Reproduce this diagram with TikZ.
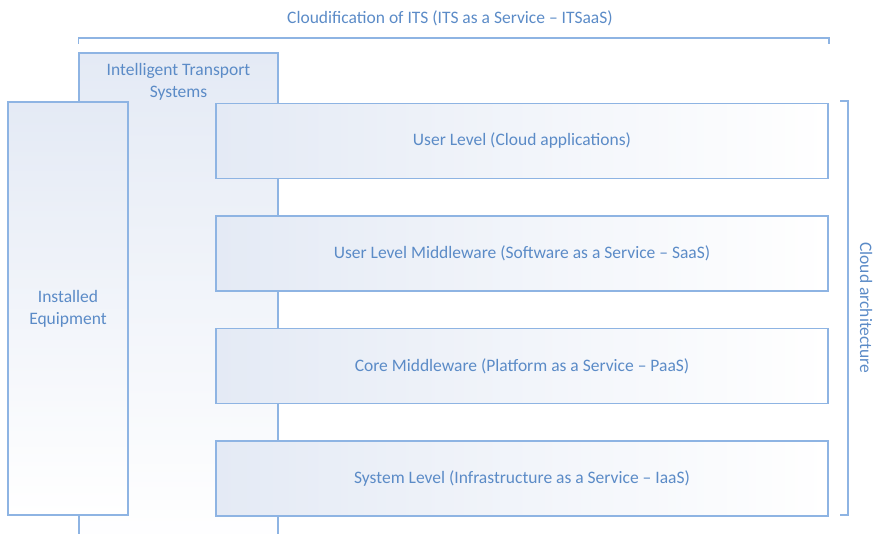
\documentclass[tikz,border=0pt]{standalone}
\usepackage{fontspec}
\setmainfont{Carlito}
\usetikzlibrary{positioning}
\definecolor{ItsLine}{HTML}{8EB4E3}
\definecolor{ItsText}{HTML}{5B8BC7}
\definecolor{ItsFill}{HTML}{E4EAF5}

\begin{document}
\begin{tikzpicture}[x=1pt,y=-1pt,
    every node/.style={font=\fontsize{17.5}{22}\selectfont,text=ItsText,align=center},
    box/.style={draw=ItsLine,line width=1.5pt,inner sep=0pt},
    level/.style={box,minimum width=612pt,minimum height=75pt,left color=ItsFill,right color=white},
    bracket/.style={draw=ItsLine,line width=1.5pt}]
  \useasboundingbox (0,0) rectangle (874,534);
  \clip (0,0) rectangle (874,534);
  \node[box,minimum width=199pt,minimum height=492pt,top color=ItsFill,bottom color=white] (its) at (178.5,299) {};
  \node[below=8pt of its.north] (itstxt) {Intelligent Transport\\Systems};
  \node[box,minimum width=120pt,minimum height=413pt,top color=ItsFill,bottom color=white] (inst) at (68,308.5) {Installed\\Equipment};
  \node[level] (ul) at (522,141) {User Level (Cloud applications)};
  \node[level,below=36pt of ul] (ulm) {User Level Middleware (Software as a Service -- SaaS)};
  \node[level,below=36pt of ulm] (core) {Core Middleware (Platform as a Service -- PaaS)};
  \node[level,below=36pt of core] (sys) {System Level (Infrastructure as a Service -- IaaS)};
  \coordinate (tl) at (its.north west |- 0,44);
  \coordinate (tr) at (ul.north east |- 0,44);
  \draw[bracket] (tl) -- ++(0,-6) -| (tr);
  \node (title) at (450,18) {Cloudification of ITS (ITS as a Service -- ITSaaS)};
  \coordinate (rt) at (840,101);
  \coordinate (rb) at (840,515);
  \draw[bracket] (rt) -- ++(8,0) |- (rb);
  \node[rotate=-90] (cloud) at (866,308) {Cloud architecture};
\end{tikzpicture}
\end{document}
